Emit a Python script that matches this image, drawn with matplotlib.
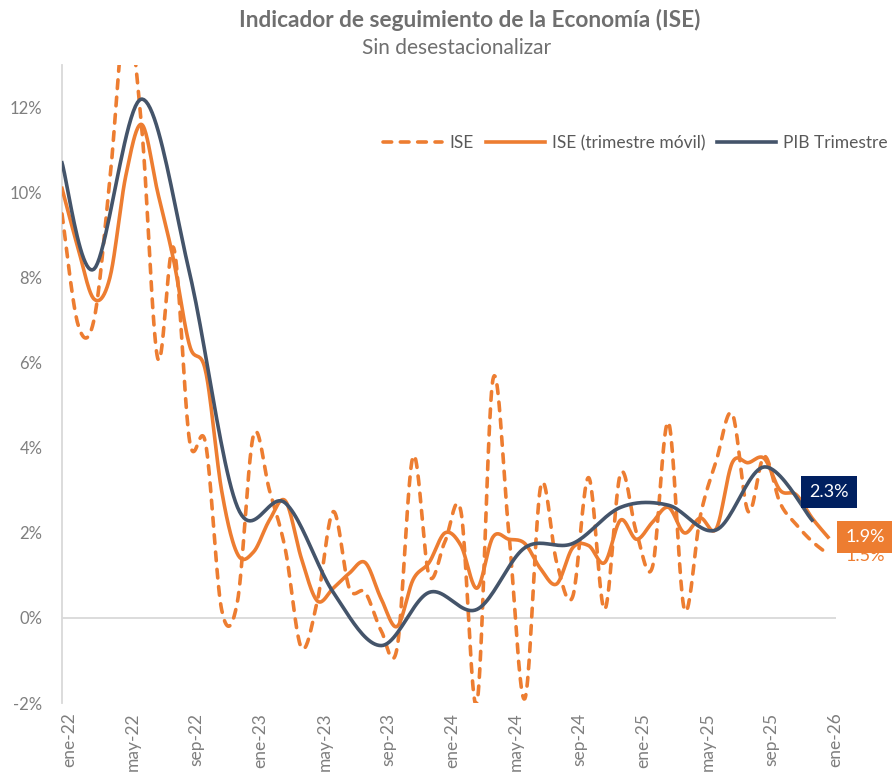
import numpy as np
import matplotlib
matplotlib.use("Agg")
import matplotlib.pyplot as plt
import matplotlib.transforms as mtransforms

plt.rcParams['font.family'] = ['Lato', 'DejaVu Sans']

# Meses ene-22 .. ene-26
meses = ["ene-22", "feb-22", "mar-22", "abr-22", "may-22", "jun-22", "jul-22", "ago-22",
         "sep-22", "oct-22", "nov-22", "dic-22",
         "ene-23", "feb-23", "mar-23", "abr-23", "may-23", "jun-23", "jul-23", "ago-23",
         "sep-23", "oct-23", "nov-23", "dic-23",
         "ene-24", "feb-24", "mar-24", "abr-24", "may-24", "jun-24", "jul-24", "ago-24",
         "sep-24", "oct-24", "nov-24", "dic-24",
         "ene-25", "feb-25", "mar-25", "abr-25", "may-25", "jun-25", "jul-25", "ago-25",
         "sep-25", "oct-25", "nov-25", "dic-25", "ene-26"]

# ISE mensual (%)
ise = [9.5, 6.9, 7.0, 10.3, 14.2, 11.5, 6.1, 8.7, 4.15, 4.1, 0.2, 0.4,
       4.3, 3.0, 1.6, -0.7, 0.4, 2.5, 0.7, 0.6, -0.3, -0.7, 3.8, 1.0,
       1.8, 2.5, -2.0, 5.6, 2.0, -1.9, 3.1, 1.3, 0.5, 3.3, 0.2, 3.4,
       2.0, 1.2, 4.6, 0.2, 2.4, 3.7, 4.8, 2.5, 3.8, 2.7, 2.2, 1.8, 1.5]

# ISE trimestre movil (%)
ise_tm = [10.1, 8.7, 7.5, 8.0, 10.4, 11.6, 10.0, 8.4, 6.4, 5.8, 3.0, 1.5,
          1.55, 2.3, 2.75, 1.4, 0.4, 0.7, 1.05, 1.3, 0.45, -0.2, 0.9, 1.3,
          2.0, 1.7, 0.7, 1.9, 1.85, 1.75, 1.15, 0.8, 1.65, 1.7, 1.3, 2.3,
          1.85, 2.25, 2.6, 2.0, 2.35, 2.1, 3.65, 3.65, 3.75, 3.0, 2.9, 2.35, 1.9]

# PIB trimestral (%), en el mes de cierre del trimestre
pib_meses = ["ene-22", "mar-22", "jun-22", "sep-22", "dic-22", "mar-23", "jun-23", "sep-23",
             "dic-23", "mar-24", "jun-24", "sep-24", "dic-24", "mar-25", "jun-25",
             "sep-25", "dic-25"]
pib = [10.7, 8.2, 12.2, 8.1, 2.6, 2.7, 0.6, -0.65, 0.6, 0.2, 1.65, 1.75, 2.6, 2.65,
       2.07, 3.55, 2.3]

NARANJA = "#ED7D31"
AZUL = "#44546A"
AZUL_ETIQ = "#002060"
GRIS = "#7F7F7F"


def suavizar(x, y, n=24):
    # curva suavizada tipo Excel (Bezier / Catmull-Rom)
    pts = np.column_stack([x, y]).astype(float)
    P = np.vstack([pts[0], pts, pts[-1]])
    t = np.linspace(0, 1, n)[:, None]
    out = []
    for i in range(len(pts) - 1):
        p0, p1, p2, p3 = P[i], P[i + 1], P[i + 2], P[i + 3]
        c1 = p1 + (p2 - p0) / 6
        c2 = p2 - (p3 - p1) / 6
        seg = (1 - t) ** 3 * p1 + 3 * (1 - t) ** 2 * t * c1 + 3 * (1 - t) * t ** 2 * c2 + t ** 3 * p2
        out.append(seg if i == 0 else seg[1:])
    out = np.vstack(out)
    return out[:, 0], out[:, 1]


x = np.arange(len(meses))
x_pib = np.array([meses.index(m) for m in pib_meses])

fig = plt.figure(figsize=(8.92, 7.78), dpi=100)
ax = fig.add_axes([62 / 892, 1 - 703 / 778, (836 - 62) / 892, (703 - 65) / 778])

ax.axhline(0, color="#D9D9D9", lw=1.3, zorder=1)

xs, ys = suavizar(x, ise)
ax.plot(xs, ys, color=NARANJA, lw=2.6, linestyle=(0, (2.4, 2.4)), dash_capstyle="round",
        label="ISE", zorder=3)
xs, ys = suavizar(x, ise_tm)
ax.plot(xs, ys, color=NARANJA, lw=2.6, label="ISE (trimestre móvil)", zorder=4)
xs, ys = suavizar(x_pib, pib)
ax.plot(xs, ys, color=AZUL, lw=2.6, label="PIB Trimestre", zorder=5)

ax.set_xlim(0, 48.5)
ax.set_ylim(-2, 13)
ax.set_yticks(np.arange(-2, 13, 2))
ax.set_yticklabels([f"{v}%" for v in range(-2, 13, 2)])
ax.set_xticks(x[::4])
ax.set_xticklabels(meses[::4], rotation=90)
ax.tick_params(axis="both", length=0, colors=GRIS, labelsize=12)
ax.tick_params(axis="x", labelsize=12.5)
ax.tick_params(axis="y", pad=14)
ax.tick_params(axis="x", pad=7)
desplaza = mtransforms.ScaledTranslation(7 / 100, 0, fig.dpi_scale_trans)
for lab in ax.get_xticklabels():
    lab.set_transform(lab.get_transform() + desplaza)

for s in ["top", "right", "bottom"]:
    ax.spines[s].set_visible(False)
ax.spines["left"].set_color("#D9D9D9")
ax.spines["left"].set_linewidth(1.3)

# etiquetas de datos
ax.annotate(f"{ise[-1]}%", xy=(48, ise[-1]), xytext=(37, -2),
            textcoords="offset pixels", ha="center", va="center", color=NARANJA,
            fontsize=13, annotation_clip=False, zorder=6)
ax.annotate(f"{ise_tm[-1]}%", xy=(48, ise_tm[-1]), xytext=(37, 0),
            textcoords="offset pixels", ha="center", va="center", color="white",
            fontsize=13, annotation_clip=False, zorder=7,
            bbox=dict(boxstyle="square,pad=0.45", fc=NARANJA, ec="none"))
ax.annotate(f"{pib[-1]}%", xy=(x_pib[-1], pib[-1]), xytext=(17, 28),
            textcoords="offset pixels", ha="center", va="center", color="white",
            fontsize=13, annotation_clip=False, zorder=7,
            bbox=dict(boxstyle="square,pad=0.45", fc=AZUL_ETIQ, ec="none"))

fig.legend(loc="center right", bbox_to_anchor=(888 / 892, 1 - 143 / 778), ncol=3,
           frameon=False, fontsize=12.5, labelcolor="#595959", handlelength=3.4,
           handletextpad=0.4, columnspacing=0.7, borderpad=0, borderaxespad=0)

fig.text(0.526, 1 - 20 / 778, "Indicador de seguimiento de la Economía (ISE)",
         ha="center", va="center", fontsize=16.3, fontweight="bold", color="#6F6F6F")
fig.text(0.512, 1 - 48 / 778, "Sin desestacionalizar", ha="center", va="center",
         fontsize=15, color="#6F6F6F")

fig.savefig("out.png", dpi=100)
